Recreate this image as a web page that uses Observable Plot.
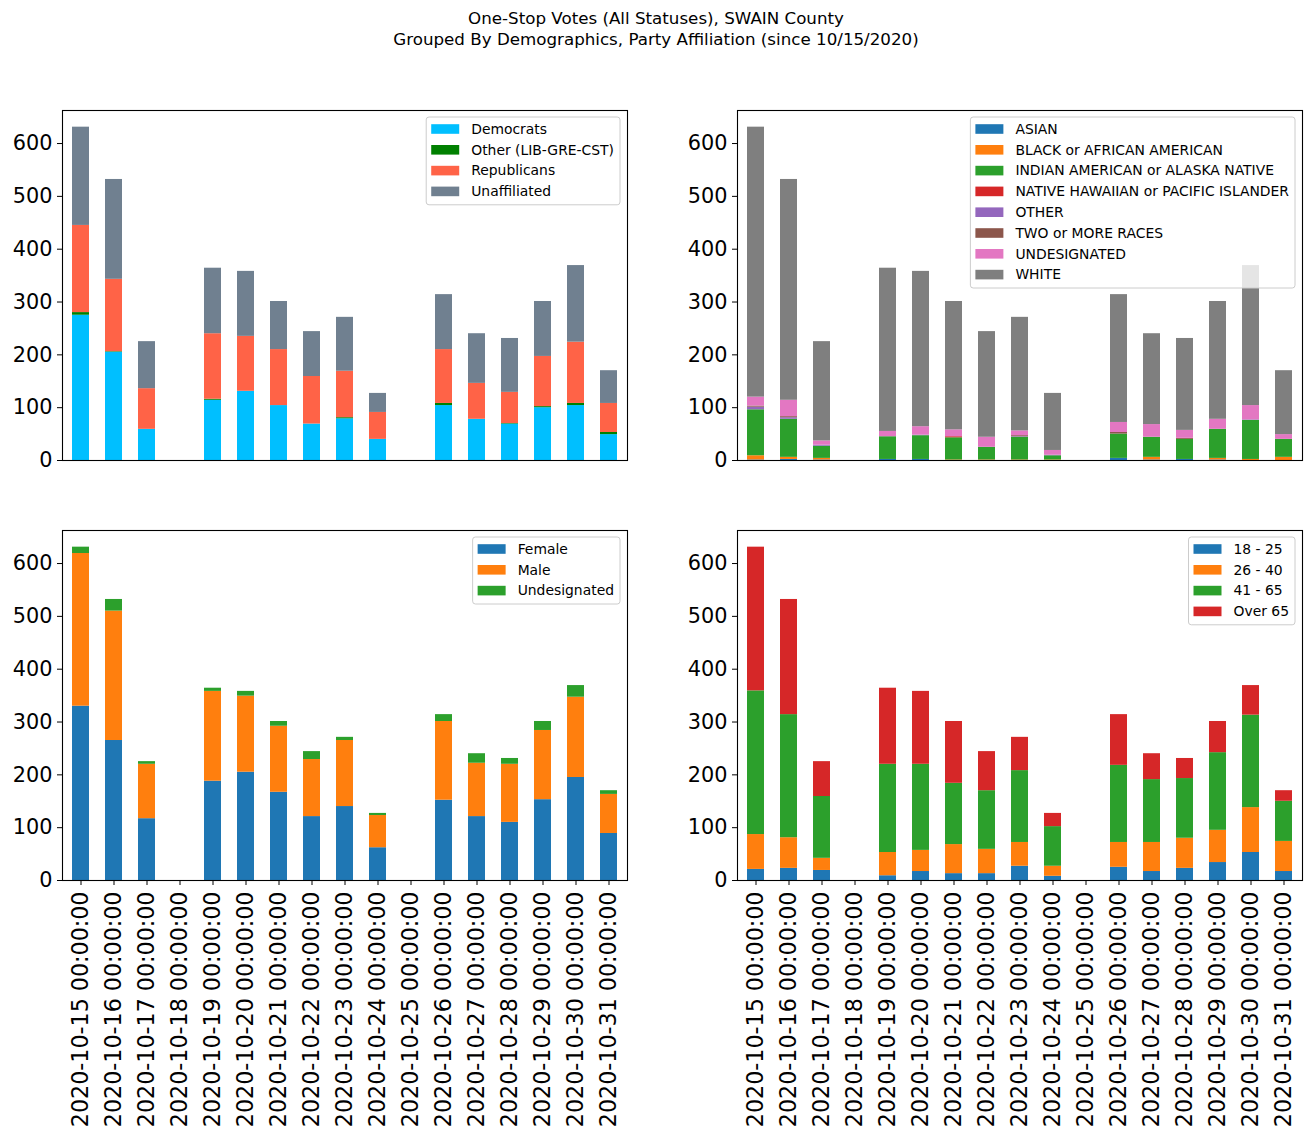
<!DOCTYPE html>
<html><head><meta charset="utf-8">
<script src="https://cdn.jsdelivr.net/npm/d3@7"></script>
<script src="https://cdn.jsdelivr.net/npm/@observablehq/plot@0.6"></script>
<style>
body{margin:0;background:#fff;}
#fig{position:relative;width:1312px;height:1137px;background:#fff;font-family:"DejaVu Sans";overflow:hidden;}
.title{position:absolute;left:0;width:1312px;text-align:center;font-size:16.7px;line-height:1;color:#000;}
.panel{position:absolute;}
</style></head><body>
<div id="fig">
<div class="title" style="top:10px">One-Stop Votes (All Statuses), SWAIN County</div>
<div class="title" style="top:31px">Grouped By Demographics, Party Affiliation (since 10/15/2020)</div>
</div>
<script>
const dates = ["2020-10-15 00:00:00","2020-10-16 00:00:00","2020-10-17 00:00:00","2020-10-18 00:00:00","2020-10-19 00:00:00","2020-10-20 00:00:00","2020-10-21 00:00:00","2020-10-22 00:00:00","2020-10-23 00:00:00","2020-10-24 00:00:00","2020-10-25 00:00:00","2020-10-26 00:00:00","2020-10-27 00:00:00","2020-10-28 00:00:00","2020-10-29 00:00:00","2020-10-30 00:00:00","2020-10-31 00:00:00"];
const yTicks = [0,100,200,300,400,500,600];

// Party affiliation
const partySeries = ["Democrats","Other (LIB-GRE-CST)","Republicans","Unaffiliated"];
const partyColors = ["#00bfff","#008000","#ff6347","#708090"];
const democrats    = [275,205,59,0,114,131,104,69,79,40,0,104,78,69,100,104,49];
const otherParty   = [5,1,0,0,2,0,0,0,2,0,0,4,0,1,2,4,4];
const republicans  = [165,137,77,0,124,104,106,90,88,51,0,102,68,59,95,116,55];
const unaffiliated = [186,189,89,0,124,123,91,85,102,36,0,104,94,102,104,145,62];

// Race
const raceSeries = ["ASIAN","BLACK or AFRICAN AMERICAN","INDIAN AMERICAN or ALASKA NATIVE","NATIVE HAWAIIAN or PACIFIC ISLANDER","OTHER","TWO or MORE RACES","UNDESIGNATED","WHITE"];
const raceColors = ["#1f77b4","#ff7f0e","#2ca02c","#d62728","#9467bd","#8c564b","#e377c2","#7f7f7f"];
const asian        = [1,2,1,0,2,2,0,0,0,0,0,4,1,2,1,0,0];
const black        = [8,4,3,0,0,0,1,1,1,1,0,0,5,0,3,2,6];
const indian       = [87,72,23,0,43,45,42,24,43,8,0,46,38,38,55,74,34];
const hawaiian     = [0,0,0,0,0,0,2,0,0,0,0,0,0,0,0,0,0];
const otherRace    = [5,3,2,0,0,1,0,0,1,1,0,0,0,0,0,1,0];
const twoOrMore    = [2,2,0,0,0,0,0,0,2,0,0,3,0,2,0,0,0];
const undesRace    = [17,31,8,0,10,16,13,19,9,9,0,19,24,15,19,27,9];
const white        = [511,418,188,0,309,294,243,200,215,108,0,242,172,174,223,265,121];

// Gender
const genderSeries = ["Female","Male","Undesignated"];
const genderColors = ["#1f77b4","#ff7f0e","#2ca02c"];
const female       = [330,265,117,0,188,205,167,121,140,62,0,152,121,110,153,195,89];
const male         = [289,245,103,0,170,144,125,108,125,61,0,149,101,110,131,152,74];
const undesGender  = [12,22,5,0,6,9,9,15,6,4,0,13,18,11,17,22,7];

// Age
const ageSeries = ["18 - 25","26 - 40","41 - 65","Over 65"];
const ageColors = ["#1f77b4","#ff7f0e","#2ca02c","#d62728"];
const age18_25   = [21,23,19,0,9,17,13,13,27,8,0,25,17,23,34,53,17];
const age26_40   = [66,58,23,0,44,40,55,46,45,19,0,47,55,57,61,85,57];
const age41_65   = [272,233,117,0,167,163,116,111,136,75,0,146,119,113,147,175,76];
const ageOver65  = [272,218,66,0,144,138,117,74,63,25,0,96,49,38,59,56,20];

const fig = document.getElementById("fig");
const canvas = document.createElement("canvas");
const ctx = canvas.getContext("2d");

function panel({series, colors, values, left, top, showX}) {
  const rows = [];
  series.forEach((s, i) => dates.forEach((d, j) => rows.push({date: d, series: s, value: values[i][j]})));
  const W = 656, H = showX ? 627 : 390;
  const ml = left === 0 ? 62 : 81, mr = left === 0 ? 29 : 10;
  const mt = 20, mb = showX ? 257 : 20;
  const chart = Plot.plot({
    width: W, height: H, marginLeft: ml, marginRight: mr, marginTop: mt, marginBottom: mb,
    style: {fontFamily: "DejaVu Sans", fontSize: "20.8px", color: "#000", background: "transparent", overflow: "visible"},
    x: {type: "band", domain: dates, paddingInner: 0.5, paddingOuter: 0.25, axis: null, label: null},
    y: {domain: [0, 662.55], axis: null, label: null},
    color: {domain: series, range: colors},
    marks: [
      Plot.barY(rows, {x: "date", y: "value", fill: "series", order: null}),
      Plot.frame({stroke: "#000", strokeWidth: 1.1}),
      Plot.axisY({ticks: yTicks, tickSize: 5, tickPadding: 5, tickFormat: d => String(d), label: null}),
      showX ? Plot.axisX({tickRotate: -90, tickSize: 5, tickPadding: 6, label: null, fontSize: 22.2}) : null
    ]
  });
  const wrap = document.createElement("div");
  wrap.className = "panel";
  wrap.style.left = left + "px";
  wrap.style.top = top + "px";
  wrap.appendChild(chart);
  fig.appendChild(wrap);

  // matplotlib-like legend (upper right, semi-transparent)
  const fs = 13.9, rowH = 20.8;
  ctx.font = fs + 'px "DejaVu Sans"';
  const tw = d3.max(series, s => ctx.measureText(s).width);
  const lw = 5 + 28 + 12 + tw + 6;
  const lh = series.length * rowH + 4.6;
  const lx = (W - mr) - 7 - lw, ly = mt + 7;
  const g = d3.select(chart).append("g").attr("text-anchor", "start");
  g.append("rect").attr("x", lx).attr("y", ly).attr("width", lw).attr("height", lh)
    .attr("rx", 2.8).attr("fill", "white").attr("fill-opacity", 0.8)
    .attr("stroke", "#cccccc").attr("stroke-width", 1);
  series.forEach((s, i) => {
    const cy = ly + 12 + i * rowH;
    g.append("rect").attr("x", lx + 5).attr("y", cy - 4.8).attr("width", 28).attr("height", 9.6).attr("fill", colors[i]);
    g.append("text").attr("x", lx + 45).attr("y", cy).attr("dy", "0.35em")
      .attr("text-anchor", "start").attr("font-size", fs).attr("fill", "#000").text(s);
  });
}

panel({series: partySeries, colors: partyColors, values: [democrats, otherParty, republicans, unaffiliated], left: 0, top: 90, showX: false});
panel({series: raceSeries, colors: raceColors, values: [asian, black, indian, hawaiian, otherRace, twoOrMore, undesRace, white], left: 656, top: 90, showX: false});
panel({series: genderSeries, colors: genderColors, values: [female, male, undesGender], left: 0, top: 510, showX: true});
panel({series: ageSeries, colors: ageColors, values: [age18_25, age26_40, age41_65, ageOver65], left: 656, top: 510, showX: true});
</script>
</body></html>
